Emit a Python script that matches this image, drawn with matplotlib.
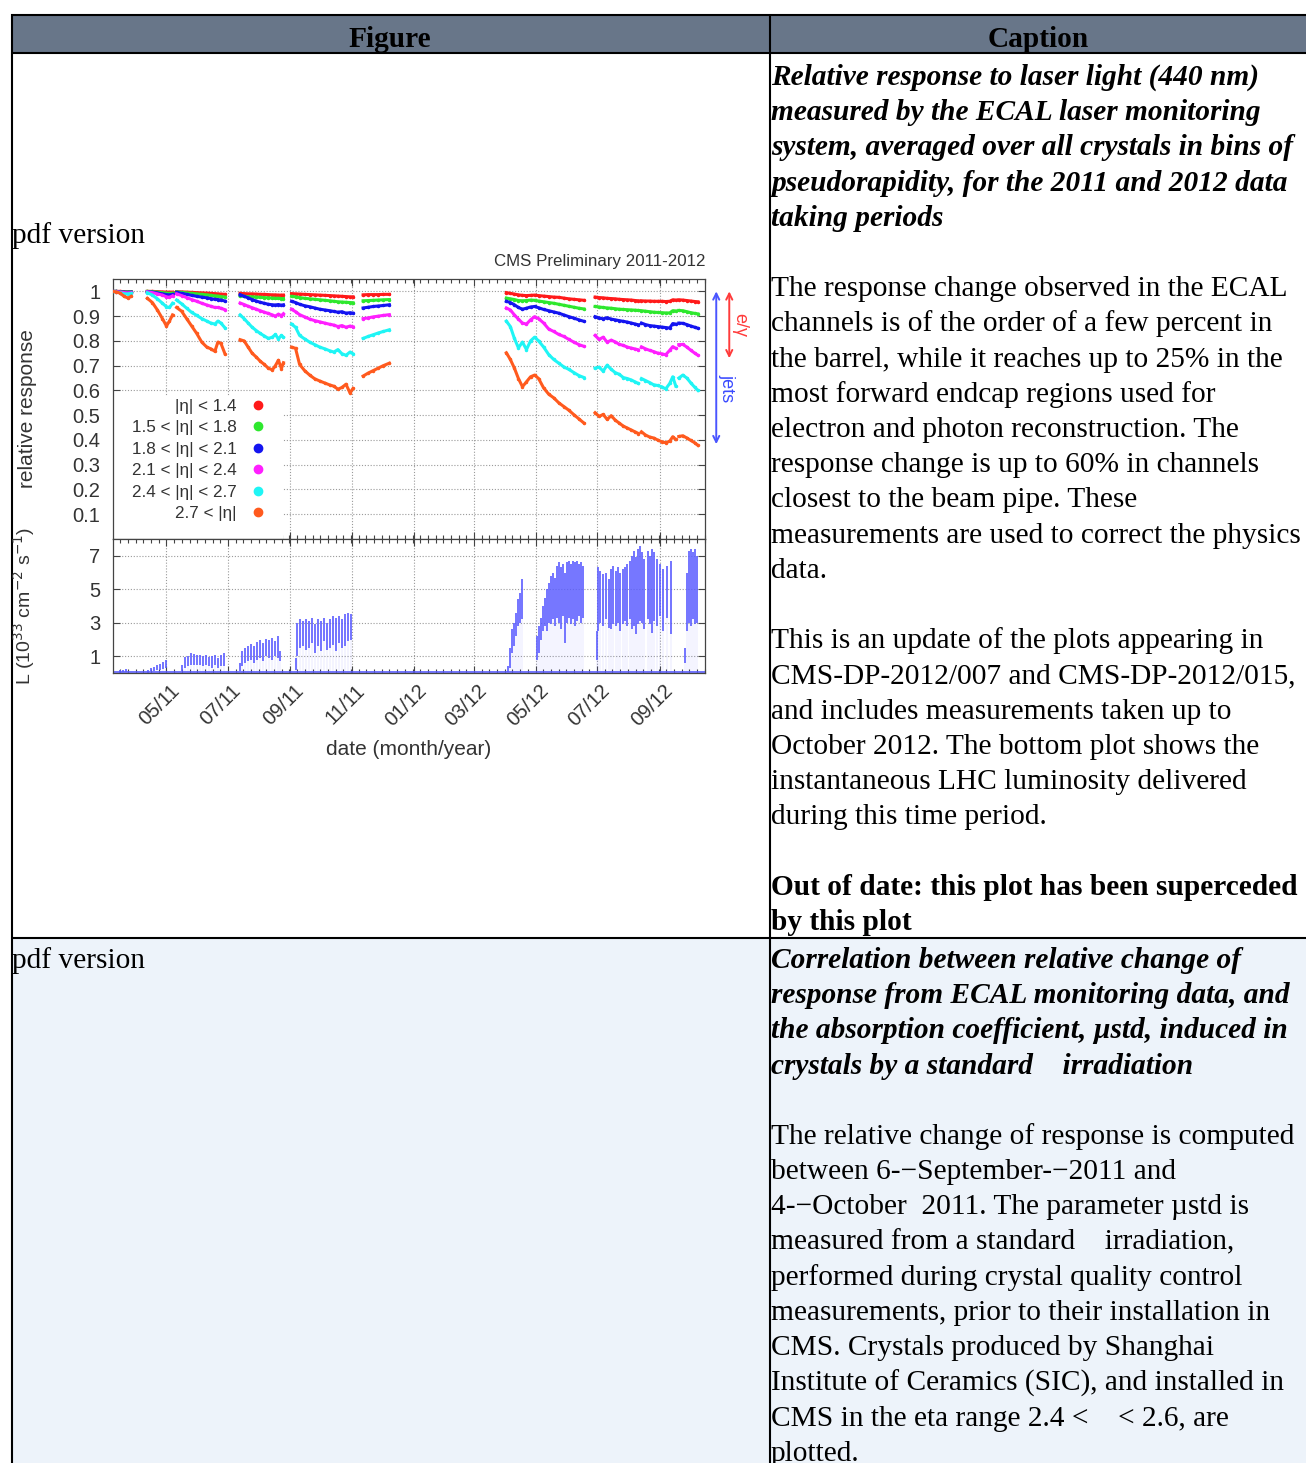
import numpy as np
import matplotlib
matplotlib.use("Agg")
import matplotlib.pyplot as plt
import matplotlib.dates as mdates
import matplotlib.transforms as mtransforms
from matplotlib.lines import Line2D
from matplotlib.patches import Rectangle
from matplotlib.ticker import AutoMinorLocator, FixedLocator, FuncFormatter

plt.rcParams['font.family'] = ['Liberation Sans', 'DejaVu Sans']

# ---------------- data: days counted from 2011-01-01 ----------------
day_segments = [
    [66, 70, 74, 78, 82, 85],
    [101, 106, 111, 116, 120, 123, 126],
    [130, 135, 140, 145, 150, 155, 160, 164, 168, 171, 174, 178],
    [193, 197, 201, 205, 209, 213, 217, 221, 225, 228, 231, 234, 236],
    [244, 248, 252, 257, 262, 267, 272, 277, 282, 286, 290, 294, 298, 302, 305],
    [315, 320, 325, 330, 335, 341],
    [457, 461, 465, 469, 473, 477, 481, 485, 489, 494, 499, 504, 509, 514, 519, 524, 529, 534],
    [545, 549, 553, 557, 561, 565, 569, 573, 577, 581, 585, 588],
    [591, 595, 599, 603, 607, 611, 615, 619, 622, 625],
    [628, 632, 636, 640, 644, 647],
]

resp_eta14 = [
    [1.0, 1.0, 1.0, 0.999, 0.999, 0.999],
    [1.0, 1.0, 0.999, 0.998, 0.997, 0.997, 0.997],
    [0.999, 0.998, 0.997, 0.996, 0.995, 0.994, 0.993, 0.992, 0.991, 0.99, 0.989, 0.988],
    [0.992, 0.991, 0.99, 0.99, 0.989, 0.988, 0.988, 0.987, 0.986, 0.986, 0.985, 0.985, 0.985],
    [0.991, 0.99, 0.989, 0.988, 0.987, 0.986, 0.985, 0.984, 0.983, 0.982, 0.981, 0.98, 0.979, 0.978, 0.978],
    [0.986, 0.987, 0.987, 0.987, 0.988, 0.988],
    [0.995, 0.992, 0.989, 0.986, 0.984, 0.983, 0.984, 0.985, 0.983, 0.981, 0.979, 0.977, 0.976, 0.973, 0.97, 0.968, 0.966, 0.964],
    [0.977, 0.975, 0.974, 0.972, 0.971, 0.97, 0.968, 0.967, 0.966, 0.965, 0.963, 0.962],
    [0.962, 0.961, 0.961, 0.96, 0.96, 0.96, 0.959, 0.96, 0.966, 0.965],
    [0.966, 0.965, 0.963, 0.961, 0.959, 0.958],
]

resp_eta15 = [
    [1.0, 1.0, 0.999, 0.998, 0.998, 0.998],
    [1.0, 0.999, 0.997, 0.995, 0.993, 0.992, 0.993],
    [0.998, 0.996, 0.994, 0.992, 0.99, 0.988, 0.986, 0.984, 0.982, 0.981, 0.979, 0.977],
    [0.982, 0.98, 0.979, 0.978, 0.977, 0.976, 0.975, 0.974, 0.973, 0.972, 0.972, 0.971, 0.971],
    [0.98, 0.978, 0.975, 0.972, 0.97, 0.968, 0.966, 0.964, 0.962, 0.96, 0.958, 0.957, 0.956, 0.955, 0.954],
    [0.962, 0.963, 0.964, 0.965, 0.966, 0.967],
    [0.973, 0.97, 0.967, 0.963, 0.962, 0.963, 0.965, 0.964, 0.961, 0.958, 0.955, 0.952, 0.948, 0.944, 0.94, 0.936, 0.932, 0.929],
    [0.939, 0.937, 0.935, 0.933, 0.932, 0.93, 0.928, 0.927, 0.926, 0.925, 0.924, 0.923],
    [0.922, 0.92, 0.918, 0.916, 0.915, 0.914, 0.913, 0.913, 0.922, 0.921],
    [0.923, 0.922, 0.918, 0.914, 0.911, 0.909],
]

resp_eta18 = [
    [1.0, 1.0, 0.998, 0.997, 0.996, 0.997],
    [0.999, 0.997, 0.994, 0.99, 0.987, 0.986, 0.988],
    [0.996, 0.992, 0.988, 0.984, 0.98, 0.977, 0.974, 0.971, 0.968, 0.967, 0.965, 0.961],
    [0.987, 0.98, 0.974, 0.967, 0.961, 0.956, 0.952, 0.948, 0.946, 0.945, 0.947, 0.944, 0.946],
    [0.96, 0.955, 0.948, 0.942, 0.938, 0.933, 0.928, 0.925, 0.922, 0.919, 0.916, 0.918, 0.912, 0.914, 0.912],
    [0.933, 0.936, 0.939, 0.941, 0.943, 0.946],
    [0.96, 0.955, 0.946, 0.935, 0.928, 0.932, 0.937, 0.939, 0.934, 0.927, 0.922, 0.917, 0.912, 0.905, 0.898, 0.892, 0.885, 0.879],
    [0.898, 0.893, 0.889, 0.894, 0.888, 0.885, 0.882, 0.879, 0.876, 0.872, 0.868, 0.865],
    [0.872, 0.866, 0.862, 0.86, 0.858, 0.856, 0.854, 0.852, 0.87, 0.868],
    [0.872, 0.871, 0.866, 0.86, 0.855, 0.851],
]

resp_eta21 = [
    [1.0, 0.999, 0.997, 0.995, 0.994, 0.995],
    [0.998, 0.995, 0.99, 0.985, 0.978, 0.976, 0.982],
    [0.99, 0.983, 0.975, 0.967, 0.96, 0.952, 0.945, 0.94, 0.935, 0.935, 0.932, 0.926],
    [0.953, 0.947, 0.94, 0.934, 0.928, 0.922, 0.916, 0.911, 0.905, 0.9, 0.908, 0.902, 0.91],
    [0.928, 0.918, 0.906, 0.897, 0.888, 0.882, 0.877, 0.872, 0.867, 0.864, 0.858, 0.862, 0.855, 0.86, 0.857],
    [0.89, 0.893, 0.897, 0.9, 0.903, 0.906],
    [0.933, 0.925, 0.905, 0.888, 0.872, 0.868, 0.885, 0.898, 0.89, 0.872, 0.848, 0.838, 0.826, 0.818, 0.806, 0.795, 0.785, 0.778],
    [0.822, 0.806, 0.815, 0.795, 0.803, 0.796, 0.786, 0.782, 0.775, 0.771, 0.767, 0.764],
    [0.776, 0.768, 0.762, 0.757, 0.751, 0.748, 0.744, 0.762, 0.777, 0.77],
    [0.785, 0.786, 0.775, 0.762, 0.75, 0.742],
]

resp_eta24 = [
    [1.0, 0.997, 0.995, 0.99, 0.99, 0.992],
    [0.995, 0.985, 0.97, 0.952, 0.938, 0.935, 0.952],
    [0.965, 0.95, 0.932, 0.915, 0.903, 0.89, 0.88, 0.872, 0.868, 0.88, 0.872, 0.853],
    [0.905, 0.89, 0.872, 0.855, 0.842, 0.83, 0.82, 0.81, 0.815, 0.826, 0.808, 0.822, 0.815],
    [0.868, 0.855, 0.822, 0.808, 0.795, 0.785, 0.775, 0.768, 0.76, 0.755, 0.765, 0.748, 0.742, 0.755, 0.748],
    [0.81, 0.818, 0.825, 0.832, 0.838, 0.845],
    [0.88, 0.858, 0.81, 0.772, 0.795, 0.765, 0.8, 0.815, 0.8, 0.775, 0.745, 0.725, 0.71, 0.695, 0.685, 0.672, 0.66, 0.652],
    [0.69, 0.694, 0.678, 0.702, 0.685, 0.672, 0.665, 0.652, 0.648, 0.642, 0.634, 0.628],
    [0.648, 0.64, 0.632, 0.623, 0.62, 0.615, 0.606, 0.628, 0.655, 0.618],
    [0.65, 0.662, 0.65, 0.63, 0.612, 0.6],
]

resp_eta27 = [
    [1.0, 0.998, 0.993, 0.98, 0.973, 0.98],
    [0.972, 0.955, 0.925, 0.89, 0.86, 0.88, 0.905],
    [0.935, 0.92, 0.89, 0.86, 0.83, 0.795, 0.775, 0.768, 0.758, 0.795, 0.79, 0.748],
    [0.805, 0.8, 0.775, 0.75, 0.735, 0.718, 0.705, 0.69, 0.683, 0.7, 0.722, 0.688, 0.712],
    [0.775, 0.77, 0.705, 0.68, 0.662, 0.647, 0.638, 0.63, 0.622, 0.617, 0.605, 0.612, 0.625, 0.59, 0.608],
    [0.658, 0.67, 0.68, 0.69, 0.7, 0.71],
    [0.752, 0.725, 0.69, 0.648, 0.615, 0.635, 0.655, 0.662, 0.648, 0.61, 0.585, 0.57, 0.55, 0.535, 0.52, 0.502, 0.485, 0.468],
    [0.51, 0.495, 0.503, 0.483, 0.498, 0.48, 0.468, 0.456, 0.448, 0.44, 0.432, 0.426],
    [0.433, 0.42, 0.412, 0.408, 0.4, 0.393, 0.389, 0.395, 0.413, 0.402],
    [0.414, 0.417, 0.408, 0.398, 0.388, 0.378],
]

eta_labels = ['|η| < 1.4', '1.5 < |η| < 1.8', '1.8 < |η| < 2.1',
              '2.1 < |η| < 2.4', '2.4 < |η| < 2.7', '2.7 < |η|']
eta_colors = ['#ff1a1a', '#2ee82e', '#1414f0', '#ff1fff', '#1ff5f5', '#ff5a1e']

# instantaneous luminosity per fill (1e33 cm^-2 s^-1): start-of-fill peak and end-of-fill value
lumi_day = [74, 77, 80,
            102, 105, 108, 111, 114, 117, 120,
            135, 138, 141, 144, 147, 150, 153, 156, 159, 162, 165, 168, 171, 174, 177,
            193, 195, 198, 201, 204, 207, 210, 213, 216, 219, 222, 225, 228, 231, 233,
            248, 249, 252, 255, 258, 261, 264, 267, 270, 273, 276, 279, 282, 285, 288, 291, 294, 297, 300, 303,
            459, 461, 463, 465, 467, 469, 471, 473,
            487, 489, 491, 493, 495, 497, 499, 501, 503, 505, 507, 509, 511, 513, 515, 517, 519, 521, 523, 525,
            527, 529, 531, 533,
            547, 548, 550, 553, 556, 559, 561, 563, 566, 568, 570, 573, 575, 577, 580, 582, 584, 586, 588, 590,
            592, 594, 597, 599, 601, 603, 606, 609, 612, 616, 620,
            634, 636, 638, 640, 642, 644, 646]
lumi_peak = [0.15, 0.2, 0.25,
             0.15, 0.3, 0.35, 0.45, 0.55, 0.65, 0.8,
             0.5, 0.95, 1.0, 1.2, 1.15, 1.1, 1.05, 1.0, 1.05, 0.95, 1.0, 1.05, 0.9, 1.1, 1.2,
             0.6, 1.3, 1.5, 1.6, 1.75, 1.6, 1.85, 2.0, 1.8, 2.05, 1.95, 2.1, 1.9, 2.2, 1.3,
             0.9, 3.0, 3.2, 3.1, 3.2, 3.1, 3.3, 2.9, 3.2, 3.1, 3.3, 3.0, 3.2, 3.4, 3.3, 3.4, 3.2, 3.5, 3.6, 3.5,
             0.4, 1.5, 2.6, 3.0, 3.6, 4.4, 4.8, 5.6,
             2.2, 2.8, 3.3, 4.0, 4.5, 5.0, 5.4, 5.8, 6.0, 5.7, 6.4, 6.6, 6.3, 6.5, 6.0, 6.6, 6.7, 6.5, 6.7, 6.6,
             6.7, 6.5, 6.6, 6.4,
             2.5, 6.3, 6.1, 5.9, 6.0, 5.6, 6.2, 6.4, 6.1, 6.3, 6.0, 6.2, 6.3, 6.5, 6.7, 7.0, 7.3, 6.9, 7.4, 7.6,
             7.2, 6.8, 7.3, 7.0, 7.4, 7.2, 6.8, 6.5, 6.2, 6.4, 6.7,
             1.5, 6.0, 7.3, 7.4, 7.2, 7.4, 7.0]
lumi_low = [0.02, 0.05, 0.05,
            0.02, 0.1, 0.1, 0.15, 0.2, 0.25, 0.3,
            0.1, 0.3, 0.4, 0.5, 0.5, 0.45, 0.5, 0.4, 0.45, 0.4, 0.3, 0.5, 0.3, 0.4, 0.4,
            0.1, 0.4, 0.6, 0.7, 0.8, 0.6, 0.8, 0.9, 0.7, 1.0, 0.9, 0.8, 1.0, 0.9, 0.7,
            0.2, 1.0, 1.5, 1.6, 1.4, 1.5, 1.8, 1.2, 1.6, 1.3, 1.9, 1.4, 1.5, 1.7, 1.3, 1.8, 1.5, 1.6, 1.9, 2.0,
            0.05, 0.3, 1.2, 1.6, 2.2, 2.8, 3.0, 3.2,
            0.8, 1.2, 2.0, 2.5, 2.8, 2.5, 3.0, 2.9, 3.2, 2.8, 3.3, 3.0, 2.6, 3.4, 1.8, 3.0, 3.3, 2.9, 3.2, 2.8,
            3.1, 3.4, 3.0, 3.3,
            0.8, 2.5, 3.0, 2.8, 3.2, 2.7, 2.6, 2.9, 2.8, 3.0, 2.5, 2.9, 3.1, 2.8, 3.2, 2.6, 2.8, 2.3, 2.9, 3.1,
            3.0, 2.6, 3.2, 2.9, 2.4, 3.1, 2.8, 3.4, 2.5, 3.3, 2.3,
            0.6, 2.5, 3.0, 2.8, 3.2, 2.9, 3.0]
lumi_floor = 0.04

# arrows on the right side: response ranges
jets_range = (0.383, 1.0)
egamma_range = (0.73, 1.0)

# ---------------- page text ----------------
cap1_title = ["Relative response to laser light (440 nm)",
              "measured by the ECAL laser monitoring",
              "system, averaged over all crystals in bins of",
              "pseudorapidity, for the 2011 and 2012 data",
              "taking periods"]
cap1_body = ["The response change observed in the ECAL",
             "channels is of the order of a few percent in",
             "the barrel, while it reaches up to 25% in the",
             "most forward endcap regions used for",
             "electron and photon reconstruction. The",
             "response change is up to 60% in channels",
             "closest to the beam pipe. These",
             "measurements are used to correct the physics",
             "data."]
cap1_update = ["This is an update of the plots appearing in",
               "CMS-DP-2012/007 and CMS-DP-2012/015,",
               "and includes measurements taken up to",
               "October 2012. The bottom plot shows the",
               "instantaneous LHC luminosity delivered",
               "during this time period."]
cap1_note = ["Out of date: this plot has been superceded",
             "by this plot"]
cap2_title = ["Correlation between relative change of",
              "response from ECAL monitoring data, and",
              "the absorption coefficient, \u00b5std, induced in",
              "crystals by a standard    irradiation"]
cap2_body = ["The relative change of response is computed",
             "between 6-\u2212September-\u22122011 and",
             "4-\u2212October  2011. The parameter \u00b5std is",
             "measured from a standard    irradiation,",
             "performed during crystal quality control",
             "measurements, prior to their installation in",
             "CMS. Crystals produced by Shanghai",
             "Institute of Ceramics (SIC), and installed in",
             "CMS in the eta range 2.4 <    < 2.6, are",
             "plotted."]


def join(segs):
    out = []
    for s in segs:
        out.extend(s)
        out.append(np.nan)
    return np.array(out[:-1], dtype=float)


W, H = 1306, 1463
fig = plt.figure(figsize=(W / 100, H / 100), dpi=100)

# ---- page (html table) ----
page = fig.add_axes([0, 0, 1, 1], zorder=0)
page.set_xlim(0, W)
page.set_ylim(H, 0)
page.axis('off')
page.add_patch(Rectangle((12, 15), W - 12, 37, color='#687689', lw=0))
page.add_patch(Rectangle((12, 938), W - 12, H - 938, color='#edf3fa', lw=0))
for (x0, x1, y0, y1) in [(11, W, 14.5, 14.5), (11, W, 52.5, 52.5), (11, W, 937.5, 937.5),
                         (11.5, 11.5, 14, H), (769.5, 769.5, 14, H)]:
    page.plot([x0, x1], [y0, y1], color='black', lw=1.5, solid_capstyle='butt')

serif = 'Liberation Serif'
fs = 21.15
page.text(390, 47, 'Figure', family=serif, fontsize=fs, fontweight='bold', ha='center', va='baseline')
page.text(1038, 47, 'Caption', family=serif, fontsize=fs, fontweight='bold', ha='center', va='baseline')
page.text(12, 243, 'pdf version', family=serif, fontsize=fs, va='baseline')
page.text(12, 968, 'pdf version', family=serif, fontsize=fs, va='baseline')

pitch = 35.2


def write_block(lines, first_center, start_idx, **kw):
    for i, t in enumerate(lines):
        page.text(771, first_center + (start_idx + i) * pitch + 9, t, family=serif,
                  fontsize=fs, va='baseline', ha='left', **kw)


write_block(cap1_title, 76, 0, fontweight='bold', fontstyle='italic')
write_block(cap1_body, 76, 6)
write_block(cap1_update, 76, 16)
write_block(cap1_note, 76, 23, fontweight='bold')
write_block(cap2_title, 959, 0, fontweight='bold', fontstyle='italic')
write_block(cap2_body, 959, 5)

# ---- chart ----
t0 = mdates.date2num(np.datetime64('2011-01-01'))
x_resp = join(day_segments) + t0
x_lumi = np.array(lumi_day, dtype=float) + t0
xmin = mdates.date2num(np.datetime64('2011-03-09'))
xmax = mdates.date2num(np.datetime64('2012-10-16'))

ax1 = fig.add_axes([113 / W, 1 - 539 / H, 592 / W, 260 / H], zorder=2)
ax2 = fig.add_axes([113 / W, 1 - 673 / H, 592 / W, 134 / H], zorder=2)

txt = '#333333'
grid_kw = dict(color='#9a9a9a', linestyle=(0, (1, 1.6)), linewidth=0.8)

for ax in (ax1, ax2):
    ax.set_xlim(xmin, xmax)
    ax.xaxis.set_major_locator(mdates.MonthLocator(bymonth=[1, 3, 5, 7, 9, 11]))
    ax.xaxis.set_major_formatter(mdates.DateFormatter('%m/%y'))
    ax.xaxis.set_minor_locator(AutoMinorLocator(8))
    ax.grid(True, which='major', **grid_kw)
    ax.set_axisbelow(True)
    for s in ax.spines.values():
        s.set_color('#444444')
        s.set_linewidth(0.9)
    ax.tick_params(which='both', direction='in', top=True, right=True, colors='#444444',
                   labelcolor=txt, labelsize=14.5, width=0.8)
    ax.tick_params(which='major', length=5)
    ax.tick_params(which='minor', length=3)
    ax.tick_params(axis='y', pad=9)

labels_data = [resp_eta14, resp_eta15, resp_eta18, resp_eta21, resp_eta24, resp_eta27]
for vals, col in zip(labels_data, eta_colors):
    ax1.plot(x_resp, join(vals), color=col, lw=2.2, marker='.', ms=3, zorder=3)

ax1.set_ylim(0, 1.05)
ax1.yaxis.set_major_locator(FixedLocator(np.round(np.arange(0.1, 1.01, 0.1), 1)))
ax1.yaxis.set_major_formatter(FuncFormatter(lambda v, p: f'{v:g}'))
ax1.tick_params(axis='x', labelbottom=False)
ax1.set_ylabel('relative response', fontsize=15, color=txt)
ax1.yaxis.set_label_coords(-0.128, 0.5)

# legend: white box over the grid, markers to the right of the labels
ax1.add_patch(Rectangle((0, 0), 170 / 592, 143 / 260, transform=ax1.transAxes,
                        facecolor='white', edgecolor='none', zorder=1))
handles = [Line2D([], [], color=c, marker='o', ls='none', ms=6) for c in eta_colors]
ax1.legend(handles, eta_labels, loc='lower left', bbox_to_anchor=(5 / 592, 4 / 260),
           markerfirst=False, frameon=False, fontsize=12.3, labelspacing=0.38,
           handlelength=1.0, handletextpad=0.75, borderpad=0.3, labelcolor=txt)

ax1.text(1.0, 1.04, 'CMS Preliminary 2011-2012', transform=ax1.transAxes,
         ha='right', va='bottom', fontsize=12.2, color=txt)

blend = mtransforms.blended_transform_factory(ax1.transAxes, ax1.transData)
ax1.annotate('', xy=(1.019, jets_range[0]), xytext=(1.019, jets_range[1]), xycoords=blend,
             textcoords=blend, annotation_clip=False,
             arrowprops=dict(arrowstyle='<->', color='#4a55ff', lw=1.4, shrinkA=0, shrinkB=0,
                             mutation_scale=11))
ax1.annotate('', xy=(1.041, egamma_range[0]), xytext=(1.041, egamma_range[1]), xycoords=blend,
             textcoords=blend, annotation_clip=False,
             arrowprops=dict(arrowstyle='<->', color='#ff3b3b', lw=1.4, shrinkA=0, shrinkB=0,
                             mutation_scale=11))
ax1.text(1.037, (jets_range[0] + jets_range[1]) / 2 - 0.08, 'jets', transform=blend, rotation=-90,
         ha='center', va='center', fontsize=13, color='#3a4aff')
ax1.text(1.058, (egamma_range[0] + egamma_range[1]) / 2, 'e/\u03b3', transform=blend, rotation=-90,
         ha='center', va='center', fontsize=13, color='#ff3b3b')

# luminosity panel
lumi_col = '#5a5cff'
ax2.vlines(x_lumi, 0, lumi_low, color=lumi_col, lw=1.3, alpha=0.07)
ax2.vlines(x_lumi, lumi_low, lumi_peak, color=lumi_col, lw=1.4, alpha=0.85)
ax2.axhline(lumi_floor, color=lumi_col, lw=1.2)
ax2.set_ylim(0, 8)
ax2.yaxis.set_major_locator(FixedLocator([1, 3, 5, 7]))
ax2.set_ylabel('L (10$^{33}$ cm$^{-2}$ s$^{-1}$)', fontsize=14, color=txt)
ax2.yaxis.set_label_coords(-0.128, 0.5)
ax2.set_xlabel('date (month/year)', fontsize=15, color=txt)
ax2.xaxis.set_label_coords(0.5, -0.5)

shift = mtransforms.ScaledTranslation(10 / 100, -10 / 100, fig.dpi_scale_trans)
for tk in ax2.xaxis.get_major_ticks():
    tk.label1.set_rotation(45)
    tk.label1.set_ha('right')
    tk.label1.set_va('center')
    tk.label1.set_rotation_mode('anchor')
    tk.label1.set_transform(tk.label1.get_transform() + shift)

fig.savefig('out.png', dpi=100)
